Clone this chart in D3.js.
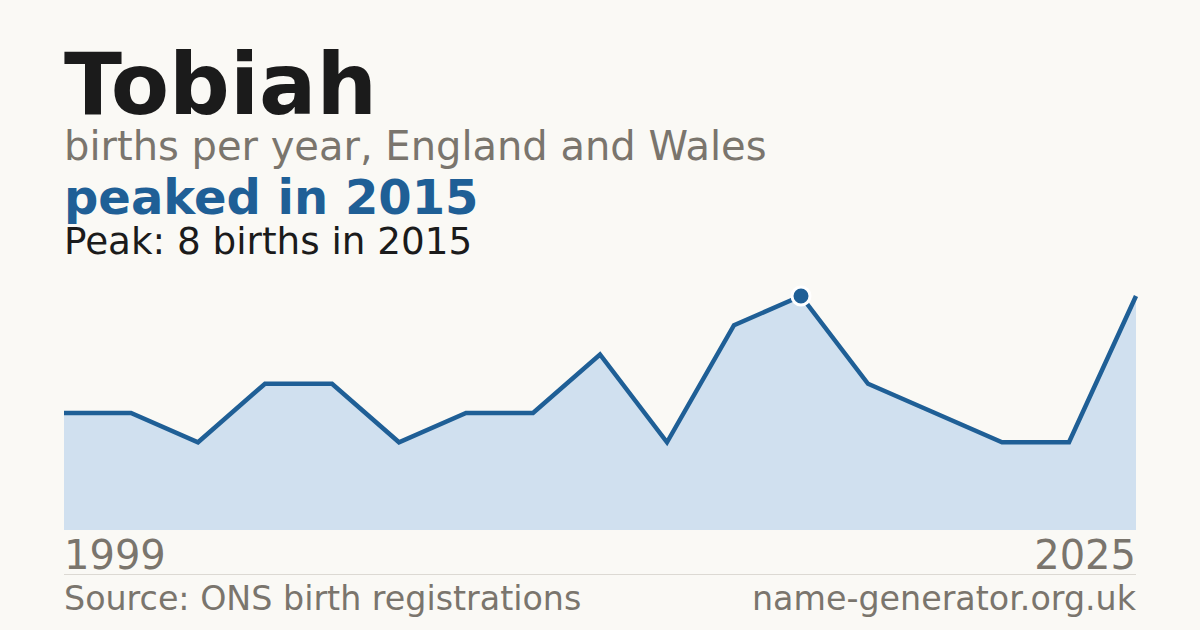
<!DOCTYPE html>
<html>
<head>
<meta charset="utf-8">
<script src="https://cdn.jsdelivr.net/npm/d3@7"></script>
<style>
  html, body { margin: 0; padding: 0; background: #faf9f5; }
  svg { display: block; font-family: "DejaVu Sans", sans-serif; }
</style>
</head>
<body>
<div id="chart"></div>
<script>
// Dữ liệu
const years = [1999, 2000, 2002, 2003, 2004, 2006, 2007, 2008, 2010, 2011, 2013, 2015, 2017, 2019, 2020, 2022, 2025];
const births = [4, 4, 3, 5, 5, 3, 4, 4, 6, 3, 7, 8, 5, 4, 3, 3, 8];
const axisLabels = ["1999", "2025"];
const peakYear = 2015;

const width = 1200, height = 630;
const plot = { left: 64, right: 1136, top: 296, bottom: 530 };

const data = years.map((y, i) => ({ year: y, value: births[i] }));

const svg = d3.select("#chart").append("svg")
    .attr("width", width)
    .attr("height", height);

svg.append("rect").attr("width", width).attr("height", height).attr("fill", "#faf9f5");

// Tiêu đề
svg.append("text").attr("x", plot.left).attr("y", 114)
    .attr("font-size", 85).attr("font-weight", "bold").attr("fill", "#1b1b1b")
    .text("Tobiah");
svg.append("text").attr("x", plot.left).attr("y", 160)
    .attr("font-size", 40).attr("fill", "#7a756d")
    .text("births per year, England and Wales");
svg.append("text").attr("x", plot.left).attr("y", 214)
    .attr("font-size", 48).attr("font-weight", "bold").attr("fill", "#1f5f96")
    .text("peaked in " + peakYear);
const peak = data.find(d => d.year === peakYear);
svg.append("text").attr("x", plot.left).attr("y", 254)
    .attr("font-size", 37.3).attr("fill", "#1b1b1b")
    .text(`Peak: ${peak.value} births in ${peakYear}`);

// Thang đo
const x = d3.scalePoint().domain(years).range([plot.left, plot.right]);
const y = d3.scaleLinear().domain([0, d3.max(births)]).range([plot.bottom, plot.top]);

const area = d3.area().x(d => x(d.year)).y0(y(0)).y1(d => y(d.value));
const line = d3.line().x(d => x(d.year)).y(d => y(d.value));

svg.append("path").datum(data).attr("d", area).attr("fill", "#d0e0ef");
svg.append("path").datum(data).attr("d", line)
    .attr("fill", "none").attr("stroke", "#1f5f96")
    .attr("stroke-width", 4.5).attr("stroke-linejoin", "miter");

// Điểm đỉnh
svg.append("circle")
    .attr("cx", x(peak.year)).attr("cy", y(peak.value)).attr("r", 9)
    .attr("fill", "#1f5f96").attr("stroke", "#ffffff").attr("stroke-width", 3);

// Nhãn trục
svg.append("text").attr("x", plot.left).attr("y", 569)
    .attr("font-size", 40).attr("fill", "#7a756d")
    .text(axisLabels[0]);
svg.append("text").attr("x", plot.right).attr("y", 569)
    .attr("font-size", 40).attr("fill", "#7a756d").attr("text-anchor", "end")
    .text(axisLabels[1]);

svg.append("line").attr("x1", plot.left).attr("x2", plot.right).attr("y1", 574.5).attr("y2", 574.5)
    .attr("stroke", "#dcd9d3").attr("stroke-width", 1);

// Chân trang
svg.append("text").attr("x", plot.left).attr("y", 610)
    .attr("font-size", 33.3).attr("fill", "#7a756d")
    .text("Source: ONS birth registrations");
svg.append("text").attr("x", plot.right).attr("y", 610)
    .attr("font-size", 33.3).attr("fill", "#7a756d").attr("text-anchor", "end")
    .text("name-generator.org.uk");
</script>
</body>
</html>
